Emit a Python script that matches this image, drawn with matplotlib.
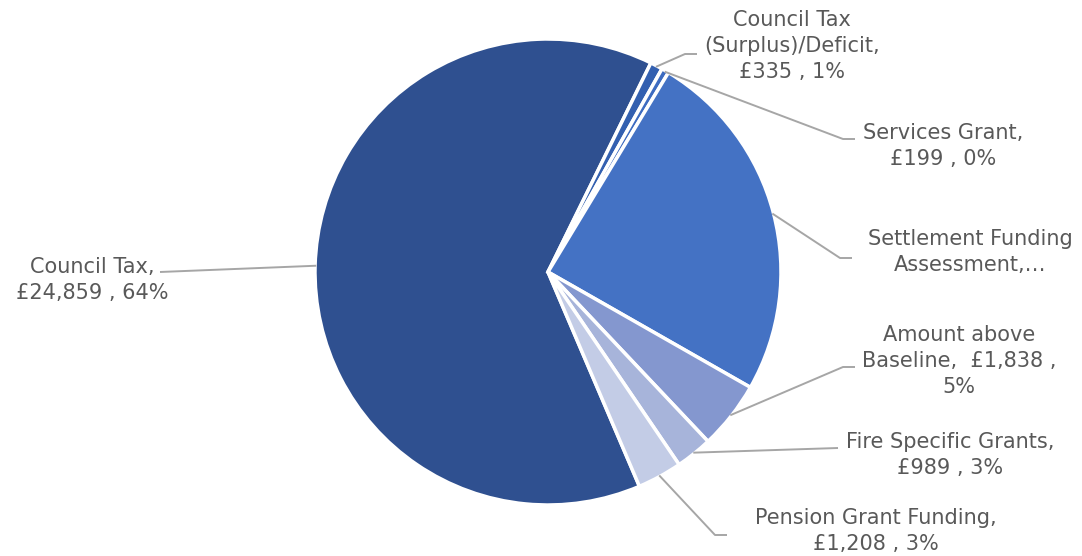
import matplotlib.pyplot as plt
import numpy as np

# Funding sources (£000s), in the order they are drawn clockwise
names = ["Council Tax", "Council Tax (Surplus)/Deficit", "Services Grant",
         "Settlement Funding Assessment", "Amount above Baseline",
         "Fire Specific Grants", "Pension Grant Funding"]
values = [24859, 335, 199, 9600, 1838, 989, 1208]
label_text = [
    "Council Tax,\n£24,859 , 64%",
    "Council Tax\n(Surplus)/Deficit,\n£335 , 1%",
    "Services Grant,\n£199 , 0%",
    "Settlement Funding\nAssessment,…",
    "Amount above\nBaseline,  £1,838 ,\n5%",
    "Fire Specific Grants,\n£989 , 3%",
    "Pension Grant Funding,\n£1,208 , 3%",
]
colors = ["#2F5090", "#3360B0", "#3D6BC0", "#4472C4", "#8497CF", "#A7B4DA", "#C3CCE6"]

# label block centre, leader elbow (None = straight line), in pie-radius units
R = 233.0
def px(x, y):
    return ((x - 548) / R, (272 - y) / R)

label_pos = [px(92, 280), px(792, 46), px(943, 146), px(970, 252),
             px(959, 361), px(950, 455), px(876, 531)]
elbow = [None, px(685, 54), px(843, 139), px(840, 258),
         px(843, 367), None, px(715, 535)]
line_end = [px(160, 272), px(697, 54), px(855, 139), px(852, 258),
            px(855, 367), px(838, 448), px(727, 535)]

fig = plt.figure(figsize=(10.82, 5.56), dpi=100)
ax = fig.add_axes([0, 0, 1, 1])

start = -66.9
wedges, _ = ax.pie(values, colors=colors, startangle=start, counterclock=False,
                   radius=1.0, wedgeprops=dict(edgecolor="white", linewidth=2.5))

ax.set_xlim(-548 / R, (1082 - 548) / R)
ax.set_ylim(-(556 - 272) / R, 272 / R)

for w, txt, pos, elb, end in zip(wedges, label_text, label_pos, elbow, line_end):
    mid = np.deg2rad((w.theta1 + w.theta2) / 2)
    ax0 = np.cos(mid) * 0.995
    ay0 = np.sin(mid) * 0.995
    xs = [ax0] + ([elb[0]] if elb else []) + [end[0]]
    ys = [ay0] + ([elb[1]] if elb else []) + [end[1]]
    ax.plot(xs, ys, color="#A6A6A6", lw=1.4, solid_capstyle="butt", zorder=1)
    ax.text(pos[0], pos[1], txt, ha="center", va="center", multialignment="center",
            fontsize=15, color="#595959", family="DejaVu Sans", linespacing=1.4)

fig.savefig("out.png", dpi=100)
